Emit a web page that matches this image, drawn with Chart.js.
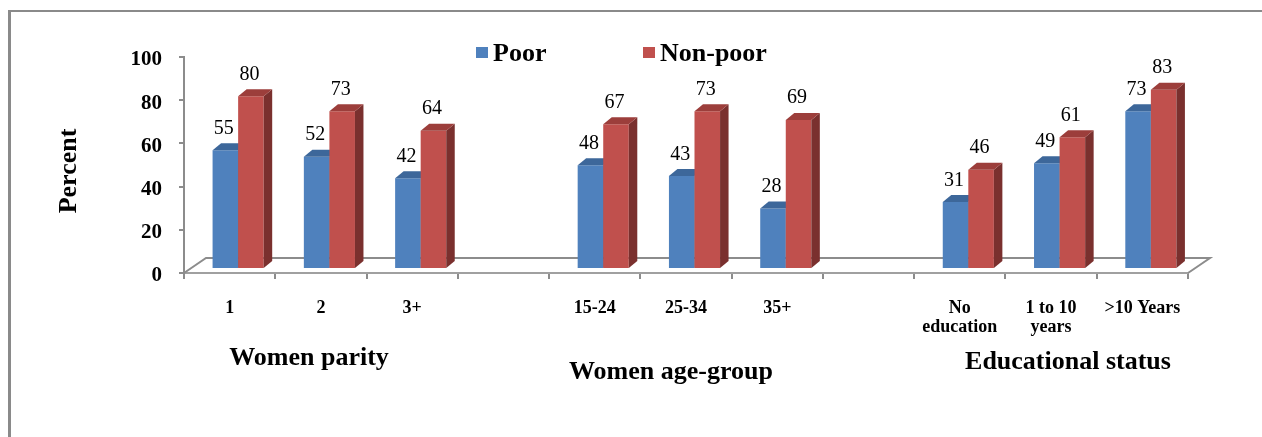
<!DOCTYPE html>
<html>
<head>
<meta charset="utf-8">
<script src="https://cdn.jsdelivr.net/npm/chart.js@4/dist/chart.umd.min.js"></script>
<style>
  html, body { margin: 0; padding: 0; background: #fff; }
  #wrap { position: relative; width: 1262px; height: 437px; overflow: hidden; }
  #frame { position: absolute; left: 8px; top: 10px; width: 1400px; height: 600px;
           border-left: 3px solid #8a8a8a; border-top: 2px solid #8a8a8a; }
  canvas { position: absolute; left: 0; top: 0; }
</style>
</head>
<body>
<div id="wrap">
  <div id="frame"></div>
  <canvas id="chart" width="1262" height="437"></canvas>
</div>
<script>
// Category slots (empty slots separate the three groups)
const categories = ['1', '2', '3+', '', '15-24', '25-34', '35+', '', ['No', 'education'], ['1 to 10', 'years'], '>10 Years'];
const poor    = [55, 52, 42, null, 48, 43, 28, null, 31, 49, 73];
const nonPoor = [80, 73, 64, null, 67, 73, 69, null, 46, 61, 83];
const yTicks = [0, 20, 40, 60, 80, 100];
const seriesNames = ['Poor', 'Non-poor'];
const groupNames = ['Women parity', 'Women age-group', 'Educational status'];
const axisTitle = 'Percent';

const SERIF = '"Liberation Serif", "Times New Roman", serif';
const FACES = [
  { front: '#4F81BD', side: '#385D8A', top: '#3D679A' },
  { front: '#C0504D', side: '#7A302E', top: '#9C3E3B' }
];
// bars stand slightly behind the front edge of the floor
const BAR_DX = 8.5, BAR_DY = -4;
// extrusion depth of each bar
const DEPTH_X = 8.5, DEPTH_Y = -7;
// depth of the floor
const FLOOR_DX = 22, FLOOR_DY = -15;

function extrude(ctx, bar, f) {
  const { x, y, base, width } = bar.getProps(['x', 'y', 'base', 'width'], true);
  const l = x - width / 2, r = x + width / 2;
  ctx.fillStyle = f.side;
  ctx.beginPath();
  ctx.moveTo(r, y);
  ctx.lineTo(r + DEPTH_X, y + DEPTH_Y);
  ctx.lineTo(r + DEPTH_X, base + DEPTH_Y);
  ctx.lineTo(r, base);
  ctx.closePath();
  ctx.fill();
  ctx.fillStyle = f.top;
  ctx.beginPath();
  ctx.moveTo(l, y);
  ctx.lineTo(l + DEPTH_X, y + DEPTH_Y);
  ctx.lineTo(r + DEPTH_X, y + DEPTH_Y);
  ctx.lineTo(r, y);
  ctx.closePath();
  ctx.fill();
}

const threeD = {
  id: 'threeD',
  beforeDatasetsDraw(chart) {
    const { ctx, chartArea: a } = chart;
    // floor outline
    ctx.save();
    ctx.strokeStyle = '#8c8c8c';
    ctx.lineWidth = 2;
    ctx.beginPath();
    ctx.moveTo(a.left, a.bottom);
    ctx.lineTo(a.left + FLOOR_DX, a.bottom + FLOOR_DY);
    ctx.lineTo(a.right + FLOOR_DX, a.bottom + FLOOR_DY);
    ctx.lineTo(a.right, a.bottom);
    ctx.stroke();
    ctx.restore();
    // bars themselves are painted below, left to right, so each one hides the one behind it
    return false;
  },
  afterDraw(chart) {
    const ctx = chart.ctx;
    const metas = chart.data.datasets.map((_, i) => chart.getDatasetMeta(i));
    ctx.save();
    ctx.translate(BAR_DX, BAR_DY);
    chart.data.labels.forEach((_, i) => {
      metas.forEach((meta, di) => {
        if (chart.data.datasets[di].data[i] == null) return;
        const bar = meta.data[i];
        bar.draw(ctx);
        extrude(ctx, bar, FACES[di]);
      });
    });
    ctx.restore();

    // value labels above each bar
    ctx.save();
    ctx.font = '20px ' + SERIF;
    ctx.fillStyle = '#000';
    ctx.textAlign = 'center';
    ctx.textBaseline = 'alphabetic';
    chart.data.datasets.forEach((ds, di) => {
      metas[di].data.forEach((bar, i) => {
        if (ds.data[i] == null) return;
        const { x, y } = bar.getProps(['x', 'y'], true);
        ctx.fillText(String(ds.data[i]), x + BAR_DX - 1.5, y + BAR_DY - 16.5);
      });
    });
    ctx.restore();
  }
};

const annotations = {
  id: 'annotations',
  afterDraw(chart) {
    const ctx = chart.ctx;
    ctx.save();
    ctx.fillStyle = '#000';
    ctx.textBaseline = 'alphabetic';

    // legend
    const legendX = [476, 643];
    ctx.font = 'bold 26px ' + SERIF;
    ctx.textAlign = 'left';
    chart.data.datasets.forEach((ds, i) => {
      ctx.fillStyle = ds.backgroundColor;
      ctx.fillRect(legendX[i], 47, 12, 11);
      ctx.fillStyle = '#000';
      ctx.fillText(ds.label, legendX[i] + 17, 61);
    });

    // group captions under the category labels
    const groupPos = [[309, 365], [671, 379], [1068, 369]];
    ctx.textAlign = 'center';
    groupNames.forEach((g, i) => ctx.fillText(g, groupPos[i][0], groupPos[i][1]));

    // vertical axis title
    ctx.translate(69, 171);
    ctx.rotate(-Math.PI / 2);
    ctx.textBaseline = 'middle';
    ctx.fillText(axisTitle, 0, 0);
    ctx.restore();
  }
};

new Chart(document.getElementById('chart'), {
  type: 'bar',
  data: {
    labels: categories,
    datasets: [
      { label: seriesNames[0], data: poor, backgroundColor: FACES[0].front },
      { label: seriesNames[1], data: nonPoor, backgroundColor: FACES[1].front }
    ]
  },
  options: {
    responsive: false,
    devicePixelRatio: 1,
    animation: false,
    layout: { padding: { top: 57, right: 74, left: 0, bottom: 0 } },
    datasets: {
      bar: { categoryPercentage: 0.56, barPercentage: 1.0, borderWidth: 0, clip: false }
    },
    plugins: {
      legend: { display: false },
      tooltip: { enabled: false }
    },
    scales: {
      x: {
        offset: true,
        grid: { display: true, offset: true, drawOnChartArea: false, drawTicks: true,
                tickLength: 6, color: '#8c8c8c', lineWidth: 2 },
        border: { display: true, color: '#a0a0a0', width: 2 },
        ticks: { font: { family: SERIF, size: 18, weight: 'bold', lineHeight: 1.1 },
                 color: '#000', padding: 19, maxRotation: 0, autoSkip: false },
        afterFit(s) { s.height = 164; }
      },
      y: {
        min: 0, max: 100,
        afterBuildTicks(s) { s.ticks = yTicks.map(v => ({ value: v })); },
        grid: { drawOnChartArea: false, drawTicks: true, tickLength: 5, color: '#8c8c8c', lineWidth: 2 },
        border: { display: true, color: '#8c8c8c', width: 2 },
        ticks: { font: { family: SERIF, size: 21, weight: 'bold' }, color: '#000',
                 padding: 17, labelOffset: 3 },
        afterFit(s) { s.width = 184; }
      }
    }
  },
  plugins: [threeD, annotations]
});
</script>
</body>
</html>
